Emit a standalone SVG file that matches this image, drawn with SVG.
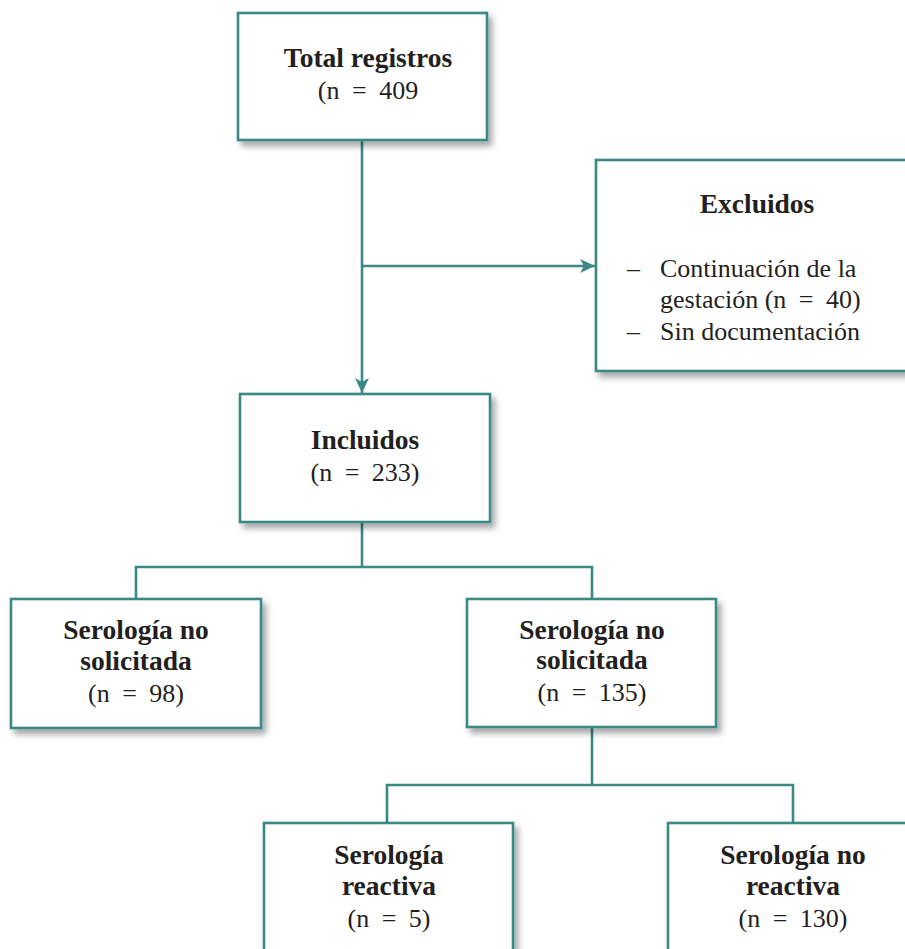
<svg xmlns="http://www.w3.org/2000/svg" width="905" height="949" viewBox="0 0 905 949">
<defs>
<filter id="sh" x="-10%" y="-10%" width="130%" height="130%">
<feDropShadow dx="4" dy="5" stdDeviation="3" flood-color="#000" flood-opacity="0.35"/>
</filter>
<marker id="ar" markerUnits="userSpaceOnUse" markerWidth="16" markerHeight="14" refX="15" refY="7" orient="auto">
<path d="M0,0 L15,7 L0,14 L4,7 z" fill="#3a8985"/>
</marker>
<style>
.box{fill:#fff;stroke:#3a8985;stroke-width:2.6;filter:url(#sh)}
.ln{fill:none;stroke:#3a8985;stroke-width:2.6}
text{font-family:"Liberation Serif","DejaVu Serif",serif;font-size:26px;fill:#231f20}
.b{font-weight:bold;font-size:27.5px}
.c{text-anchor:middle}
.n{word-spacing:6px}
</style>
</defs>
<g id="connectors">
<path class="ln" d="M362,141 V393" marker-end="url(#ar)"/>
<path class="ln" d="M362,266 H595" marker-end="url(#ar)"/>
<path class="ln" d="M362,522 V567 M136,599 V567 H592 V599"/>
<path class="ln" d="M592,727 V785 M387,823 V785 H793 V823"/>
</g>
<g id="total">
<rect class="box" x="238" y="13" width="249" height="127"/>
<text class="b c" x="368" y="67">Total registros</text>
<text class="c n" x="368" y="99">(n = 409</text>
</g>
<g id="excluidos">
<rect class="box" x="596" y="160" width="322" height="211"/>
<text class="b c" x="757" y="213">Excluidos</text>
<text x="627" y="277">–</text>
<text x="660" y="277">Continuación de la</text>
<text x="660" y="308">gestación <tspan class="n">(n = 40)</tspan></text>
<text x="627" y="340">–</text>
<text x="660" y="340">Sin documentación</text>
</g>
<g id="incluidos">
<rect class="box" x="240" y="394" width="250" height="128"/>
<text class="b c" x="365" y="449">Incluidos</text>
<text class="c n" x="365" y="481">(n = 233)</text>
</g>
<g id="no-solicitada-98">
<rect class="box" x="11" y="599" width="250" height="129"/>
<text class="b c" x="136" y="639">Serología no</text>
<text class="b c" x="136" y="670">solicitada</text>
<text class="c n" x="136" y="702">(n = 98)</text>
</g>
<g id="no-solicitada-135">
<rect class="box" x="467" y="599" width="249" height="128"/>
<text class="b c" x="592" y="639">Serología no</text>
<text class="b c" x="592" y="669">solicitada</text>
<text class="c n" x="592" y="701">(n = 135)</text>
</g>
<g id="reactiva">
<rect class="box" x="264" y="823" width="249" height="140"/>
<text class="b c" x="389" y="864">Serología</text>
<text class="b c" x="389" y="895">reactiva</text>
<text class="c n" x="389" y="927">(n = 5)</text>
</g>
<g id="no-reactiva">
<rect class="box" x="668" y="823" width="250" height="140"/>
<text class="b c" x="793" y="864">Serología no</text>
<text class="b c" x="793" y="895">reactiva</text>
<text class="c n" x="793" y="927">(n = 130)</text>
</g>
</svg>
